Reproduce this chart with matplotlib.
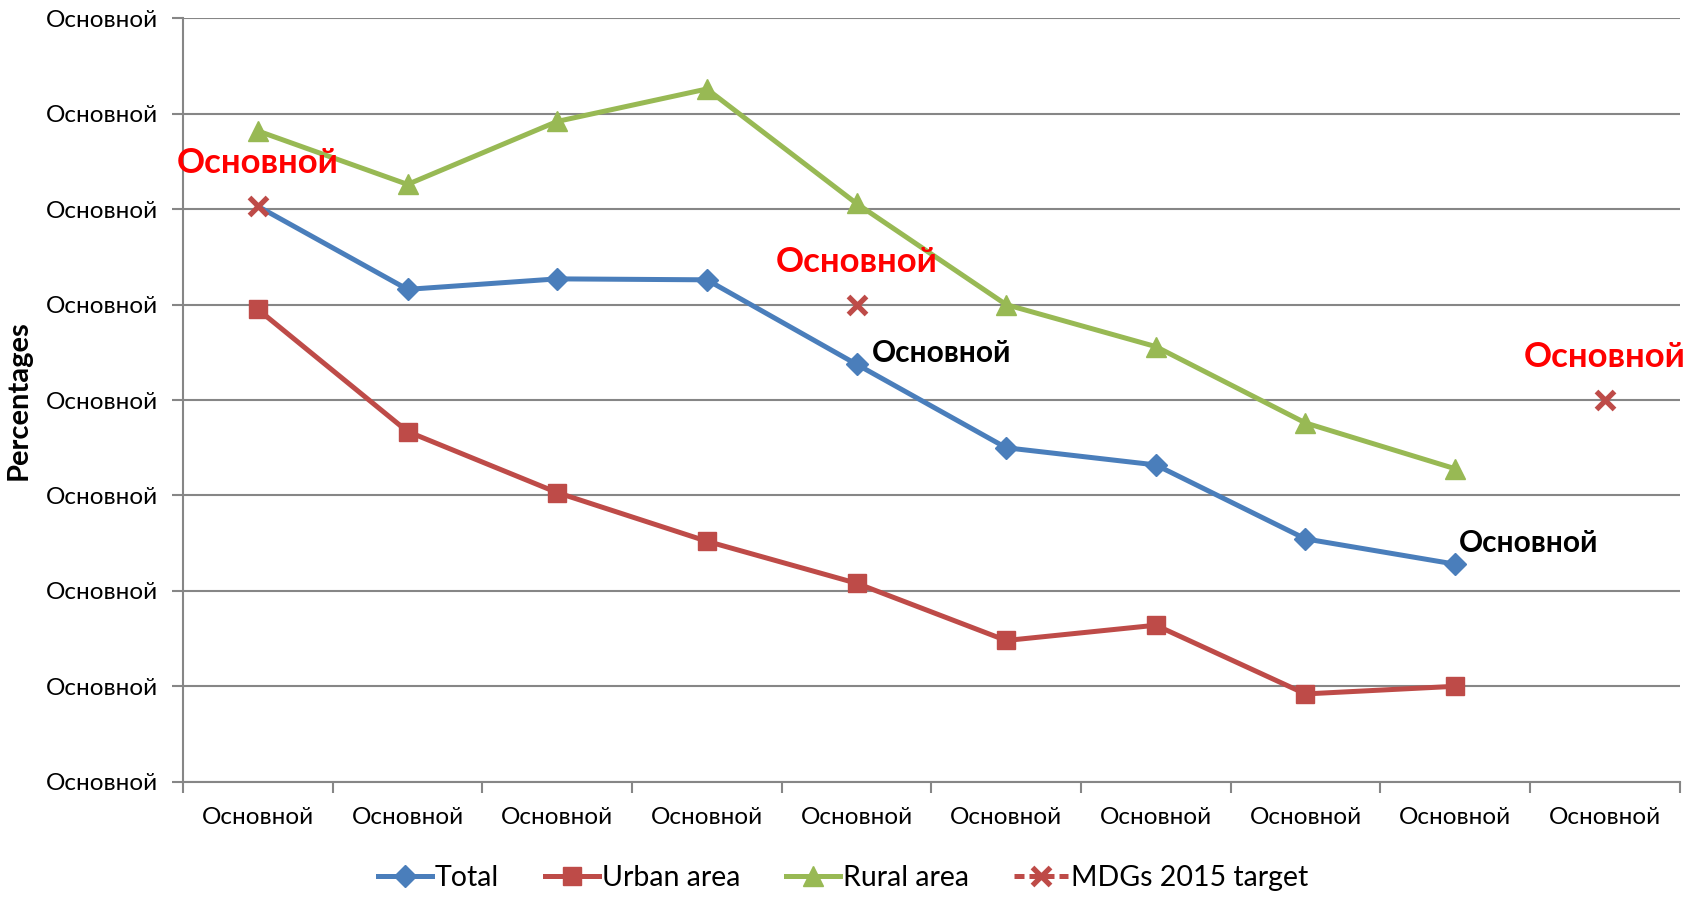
import matplotlib
matplotlib.use("Agg")
import matplotlib.pyplot as plt
from matplotlib.lines import Line2D
import numpy as np

categories = ["Основной"] * 10
y_tick_labels = ["Основной"] * 9
total = [6.03, 5.16, 5.27, 5.26, 4.375, 3.5, 3.32, 2.545, 2.28]
urban = [4.95, 3.67, 3.03, 2.52, 2.08, 1.48, 1.64, 0.92, 1.0]
rural = [6.82, 6.26, 6.92, 7.26, 6.06, 5.0, 4.56, 3.76, 3.28]
mdg_x = [0, 4, 9]
mdg = [6.03, 5.0, 4.0]
mdg_labels = ["Основной", "Основной", "Основной"]
total_label_idx = [4, 8]
total_labels = ["Основной", "Основной"]

BLUE = "#4A7EBB"
RED = "#BE4B48"
GREEN = "#98B954"
GRID = "#868686"
FONT = "Lato"
LW = 3.6

fig = plt.figure(figsize=(17, 9.01), dpi=100)
ax = fig.add_axes([0.1077, 0.1324, 0.8803, 0.8472])

x = np.arange(len(total))
ax.plot(x, total, color=BLUE, lw=LW, marker="D", ms=11.5, markevery=list(range(1, len(total))), zorder=3)
ax.plot(x, urban, color=RED, lw=LW, marker="s", ms=13, zorder=3)
ax.plot(x, rural, color=GREEN, lw=LW, marker="^", ms=14, zorder=3)
ax.plot(mdg_x, mdg, ls="none", marker="x", ms=13, mew=3.8, color=RED, zorder=4)

for xi, yi, lab in zip(mdg_x, mdg, mdg_labels):
    ax.annotate(lab, (xi, yi), xytext=(0, 31), textcoords="offset points",
                ha="center", va="center", color="red", fontsize=25,
                fontweight="bold", family=FONT)
offsets = [(11, 8), (3, 15)]
for i, lab, off in zip(total_label_idx, total_labels, offsets):
    ax.annotate(lab, (i, total[i]), xytext=off, textcoords="offset points",
                ha="left", va="center", color="black", fontsize=21.5,
                fontweight="bold", family=FONT)

ax.set_xlim(-0.5, 9.5)
ax.set_ylim(0, 8)
ax.set_yticks(range(9))
ax.set_yticklabels(y_tick_labels, family=FONT, fontsize=17.5)
ax.set_xticks(range(10))
ax.set_xticklabels(categories, family=FONT, fontsize=17.5)
ax.set_xticks(np.arange(-0.5, 10, 1), minor=True)
ax.tick_params(axis="x", which="major", length=0, pad=18)
ax.tick_params(axis="x", which="minor", length=8, width=1.5, color=GRID)
ax.tick_params(axis="y", length=8, width=1.5, color=GRID, pad=10)
ax.grid(axis="y", color=GRID, lw=1.5)
ax.set_axisbelow(True)
for s in ["top", "right"]:
    ax.spines[s].set_visible(False)
for s in ["left", "bottom"]:
    ax.spines[s].set_color(GRID)
    ax.spines[s].set_linewidth(1.5)
ax.set_ylabel("Percentages", family=FONT, fontsize=21, fontweight="bold", labelpad=10)

handles = [
    Line2D([], [], color=BLUE, lw=LW, marker="D", ms=11.5),
    Line2D([], [], color=RED, lw=LW, marker="s", ms=13),
    Line2D([], [], color=GREEN, lw=LW, marker="^", ms=14),
    Line2D([], [], color=RED, lw=LW, ls=(0, (2.0, 1.0)), marker="x", ms=13, mew=3.8),
]
fig.legend(handles, ["Total", "Urban area", "Rural area", "MDGs 2015 target"],
           loc="center", bbox_to_anchor=(0.496, 0.026), ncol=4, frameon=False,
           prop={"family": FONT, "size": 20.5}, handlelength=1.9, handletextpad=0.1,
           columnspacing=1.6)

fig.savefig("out.png", dpi=100)
